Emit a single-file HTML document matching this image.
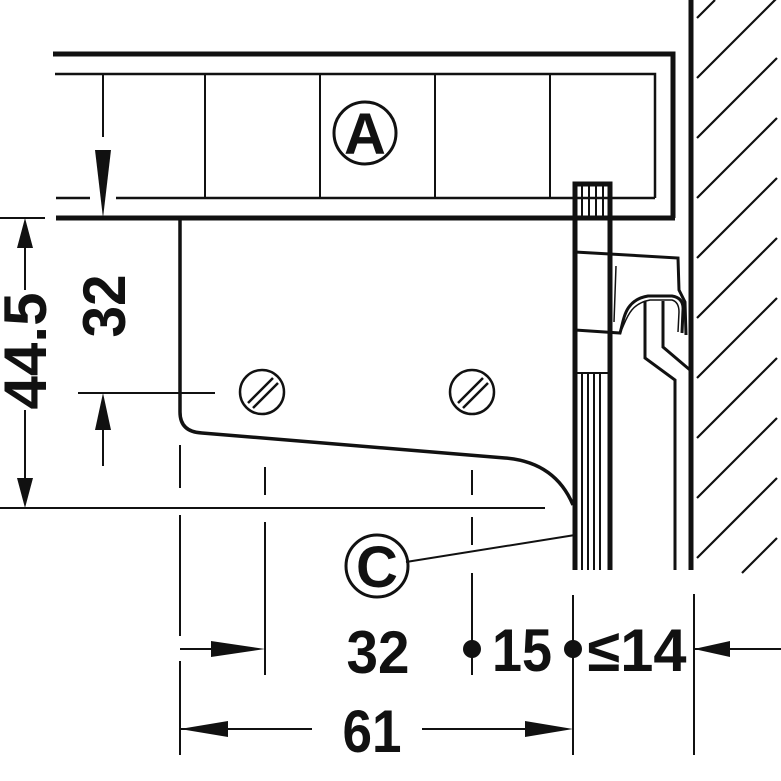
<!DOCTYPE html>
<html><head><style>html,body{margin:0;padding:0;background:#fff}svg{display:block}</style></head>
<body>
<svg width="781" height="781" viewBox="0 0 781 781" xmlns="http://www.w3.org/2000/svg" font-family="Liberation Sans, sans-serif" font-weight="bold">
<g stroke="#111" fill="none" stroke-linecap="butt">
<path d="M53 54 H673 V218" stroke-width="5"/>
<path d="M55 74 H655 V198" stroke-width="2.5"/>
<path d="M56 198 H90 M116 198 H655" stroke-width="2.5"/>
<path d="M56 218 H675" stroke-width="5"/>
<path d="M205 74 V198 M320 74 V198 M435 74 V198 M550 74 V198" stroke-width="2"/>
<circle cx="365" cy="133" r="31" stroke-width="3"/>
<path d="M691 0 V570" stroke-width="5"/>
<path d="M697 78 L777 -2 M697 138 L777 58 M697 198 L777 118 M697 258 L777 178 M697 318 L777 238 M697 378 L777 298 M697 438 L777 358 M697 498 L777 418 M697 558 L777 478 M742 573 L777 538 M697 18 L715 0" stroke-width="2.2"/>
<path d="M575 570 V184 H610 V570" stroke-width="5"/>
<path d="M582 184 V218 M589 184 V218 M596 184 V218 M603 184 V218" stroke-width="2"/>
<path d="M575 373 H610" stroke-width="2"/>
<path d="M582 373 V570 M588 373 V570 M594 373 V570 M600 373 V570" stroke-width="2"/>
<path d="M575 252 L678 258 L679 290 L685 302 L686 335" stroke-width="3"/>
<path d="M575 330 L620 333 C624 320 624 300 648 296 L672 296 Q684 298 683 310 L682 333" stroke-width="3"/>
<path d="M620 333 C626 322 628 304 650 300 L672 300 Q679 302 679 312 L678 332" stroke-width="1.5"/>
<path d="M610 268 V322" stroke-width="2" stroke-dasharray="6,5"/>
<path d="M616 266 L614 322" stroke-width="1.5"/>
<path d="M645 301 V358 L675 380 V570" stroke-width="3"/>
<path d="M663 301 V347 L690 370" stroke-width="3"/>
<path d="M180 218 V412 Q180 432 202 433 L505 458 Q555 462 573 505" stroke-width="3.5"/>
<circle cx="262" cy="392" r="22" stroke-width="2.5"/>
<path d="M248 403 L273 378 M253 408 L278 383" stroke-width="2.5"/>
<circle cx="472" cy="392" r="22" stroke-width="2.5"/>
<path d="M458 403 L483 378 M463 408 L488 383" stroke-width="2.5"/>
<path d="M0 218 H45 M0 508 H545" stroke-width="2"/>
<path d="M25 245 V290 M25 410 V480 M103 74 V137 M103 420 V466 M78 393 H215" stroke-width="2"/>
<path d="M180 445 V488 M180 515 V636 M180 661 V755 M265 467 V495 M265 522 V675 M472 470 V495 M472 517 V545 M472 573 V675 M573 595 V755 M694 594 V755" stroke-width="2"/>
<path d="M180 649 H215 M694 649 H781 M180 729 H312 M422 729 H540" stroke-width="2"/>
<circle cx="377" cy="566" r="31" stroke-width="3"/>
<path d="M406 562 L575 535" stroke-width="2"/>
</g>
<g fill="#111">
<path d="M25 218 L17 248 L33 248 Z"/>
<path d="M25 508 L17 478 L33 478 Z"/>
<path d="M103 218 L95 150 L111 150 Z"/>
<path d="M103 393 L95 430 L111 430 Z"/>
<path d="M265 649 L211 641 L211 657 Z"/>
<path d="M694 649 L730 641 L730 657 Z"/>
<path d="M180 729 L228 721 L228 737 Z"/>
<path d="M573 729 L525 721 L525 737 Z"/>
<circle cx="472" cy="649" r="9"/>
<circle cx="573" cy="649" r="9"/>
</g>
<g fill="#111" font-size="60">
<text x="365" y="154" text-anchor="middle" font-size="58">A</text>
<text x="377" y="587" text-anchor="middle" font-size="58">C</text>
<text x="378" y="673" text-anchor="middle" textLength="63" lengthAdjust="spacingAndGlyphs">32</text>
<text x="522" y="671" text-anchor="middle" textLength="60" lengthAdjust="spacingAndGlyphs">15</text>
<text x="637" y="671" text-anchor="middle" textLength="99" lengthAdjust="spacingAndGlyphs">≤14</text>
<text x="372" y="752" text-anchor="middle" textLength="59" lengthAdjust="spacingAndGlyphs">61</text>
<text transform="translate(46,351) rotate(-90)" text-anchor="middle" textLength="117" lengthAdjust="spacingAndGlyphs">44.5</text>
<text transform="translate(125,306) rotate(-90)" text-anchor="middle" textLength="63" lengthAdjust="spacingAndGlyphs">32</text>
</g>
</svg>
</body></html>
